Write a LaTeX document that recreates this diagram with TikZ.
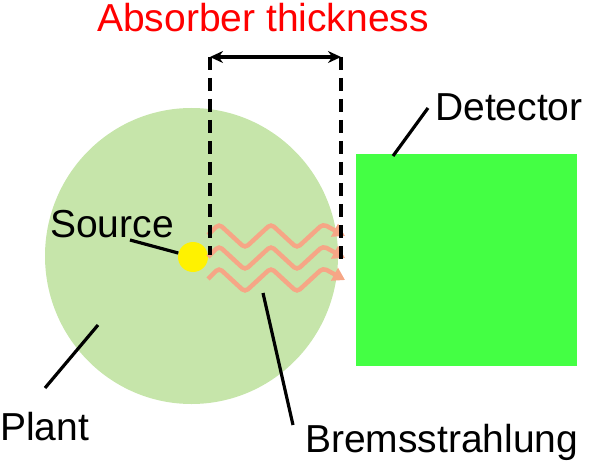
\documentclass[tikz,border=0pt]{standalone}
\usepackage{fontspec}
\setmainfont{Liberation Sans}
\usetikzlibrary{shapes.geometric, arrows.meta}
\definecolor{plantgreen}{RGB}{198,229,170}
\definecolor{detgreen}{RGB}{68,255,68}
\definecolor{wavesalmon}{RGB}{246,166,134}

\begin{document}
\begin{tikzpicture}[x=1pt, y=-1pt, lbl/.style={anchor=base west, inner sep=0pt, font=\fontsize{39}{40}\selectfont}, lead/.style={line width=3.2pt}, dim/.style={line width=3.2pt, dash pattern=on 13pt off 8pt}, wave/.style={-{Triangle[length=12pt, width=14pt]}, line width=4.5pt, wavesalmon, rounded corners=4pt}]
                \useasboundingbox (0,0) rectangle (596,462);
                % nodes
                \node[ellipse, fill=plantgreen, minimum width=293pt, minimum height=296pt, inner sep=0pt] (plant) at (191.5,256) {};
                \node[rectangle, fill=detgreen, minimum width=221pt, minimum height=212pt, inner sep=0pt] (detector) at (466.5,260) {};
                \node[circle, fill=yellow, minimum size=30pt, inner sep=0pt] (source) at (193,257) {};
                \node[lbl, text=red] (thick) at (97,32) {Absorber thickness};
                \node[lbl] (sourcelbl) at (50,237) {Source};
                \node[lbl] (detlbl) at (435,121) {Detector};
                \node[lbl] (plantlbl) at (0,440) {Plant};
                \node[lbl] (bremslbl) at (305,452) {Bremsstrahlung};
                % points
                \coordinate (dimL) at (210,57);
                \coordinate (dimR) at (341,57);
                \coordinate (dimLend) at (210,255);
                \coordinate (dimRend) at (341,265);
                \coordinate (srcpt) at (130,240);
                \coordinate (plantA) at (98,325);
                \coordinate (plantB) at (45,388);
                \coordinate (bremsA) at (263,293);
                \coordinate (bremsB) at (293,425);
                \coordinate (detA) at (393,156);
                \coordinate (detB) at (428,108);
                % waves
                \foreach \dy in {0,22,44}
                    \draw[wave] (208,235+\dy) -- (219,224+\dy) -- (245,248+\dy) -- (271,224+\dy) -- (297,248+\dy) -- (323,224+\dy) -- (345,236+\dy);
                % edges
                \draw[dim] (dimL) -- (dimLend);
                \draw[dim] (dimR) -- (dimRend);
                \draw[line width=3.2pt, {Stealth[length=13pt, width=12pt]}-{Stealth[length=13pt, width=12pt]}] (dimL) -- (dimR);
                \draw[lead] (srcpt) -- (source);
                \draw[lead] (plantA) -- (plantB);
                \draw[lead] (bremsA) -- (bremsB);
                \draw[lead] (detA) -- (detB);
            \end{tikzpicture}
\end{document}
